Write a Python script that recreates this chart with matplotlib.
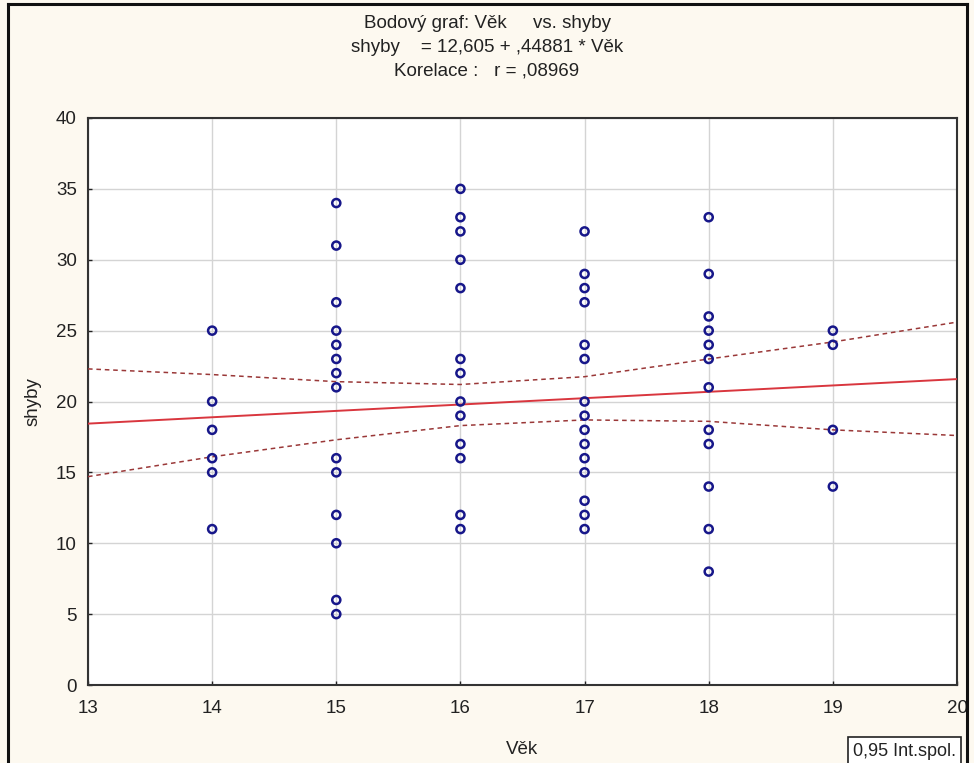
import numpy as np
import matplotlib
matplotlib.use("Agg")
import matplotlib.pyplot as plt
from matplotlib.lines import Line2D

plt.rcParams['font.family'] = ['Liberation Sans', 'DejaVu Sans']

# Age groups and pull-up counts (shyby) observed in each group
vek_14 = [25, 20, 18, 16, 15, 11]
vek_15 = [34, 31, 27, 25, 24, 23, 22, 21, 16, 15, 12, 10, 6, 5]
vek_16 = [35, 33, 32, 30, 28, 23, 22, 20, 19, 17, 16, 12, 11]
vek_17 = [32, 29, 28, 27, 24, 23, 20, 19, 18, 17, 16, 15, 13, 12, 11]
vek_18 = [33, 29, 26, 25, 24, 23, 21, 18, 17, 14, 11, 8]
vek_19 = [25, 24, 18, 14]
groups = {14: vek_14, 15: vek_15, 16: vek_16, 17: vek_17, 18: vek_18, 19: vek_19}

# Regression coefficients as reported
intercept = 12.605
slope = 0.44881

# 0.95 confidence band edges at each age
band_x = [13, 14, 15, 16, 17, 18, 19, 20]
band_upper = [22.3, 21.9, 21.4, 21.2, 21.75, 23.0, 24.2, 25.6]
band_lower = [14.7, 16.1, 17.3, 18.3, 18.7, 18.6, 18.0, 17.6]

x = np.concatenate([[k] * len(v) for k, v in groups.items()]).astype(float)
y = np.concatenate([v for v in groups.values()]).astype(float)

xs = np.array([13.0, 20.0])
fit = intercept + slope * xs

W, H = 974, 763
fig = plt.figure(figsize=(W / 100, H / 100), dpi=100, facecolor='#fdf9f0')
ax = fig.add_axes([88 / W, (H - 685) / H, (957 - 88) / W, (685 - 118) / H])
ax.set_facecolor('white')

ax.grid(True, color='#d4d4d4', linewidth=1.0)
ax.set_axisbelow(True)

ax.plot(xs, fit, color='#d9363e', linewidth=1.4, zorder=3)
ax.plot(band_x, band_upper, color='#9a3838', linewidth=1.1, linestyle=(0, (3, 2.5)), zorder=3)
ax.plot(band_x, band_lower, color='#9a3838', linewidth=1.1, linestyle=(0, (3, 2.5)), zorder=3)

ax.scatter(x, y, s=34, facecolors='none', edgecolors='#17178a', linewidths=1.8, zorder=4)

ax.set_xlim(13, 20)
ax.set_ylim(0, 40)
ax.set_xticks(range(13, 21))
ax.set_yticks(range(0, 41, 5))
ax.tick_params(direction='in', length=3, width=1, colors='#222222',
               labelsize=13.5, labelcolor='#222222')
ax.tick_params(axis='x', pad=11)
ax.tick_params(axis='y', pad=8)
for sp in ax.spines.values():
    sp.set_color('#333333')
    sp.set_linewidth(1.5)

ax.set_xlabel('Věk', fontsize=13.5, color='#222222', labelpad=17)
ax.set_ylabel('shyby', fontsize=13.5, color='#222222', labelpad=10)

fig.text(0.5, 1 - 23 / H, 'Bodový graf: Věk     vs. shyby', ha='center', va='center',
         fontsize=13.5, color='#222222')
fig.text(0.5, 1 - 47 / H, 'shyby    = 12,605 + ,44881 * Věk', ha='center', va='center',
         fontsize=13.5, color='#222222')
fig.text(0.5, 1 - 71 / H, 'Korelace :   r = ,08969', ha='center', va='center',
         fontsize=13.5, color='#222222')

# Outer frame
for xy in [([8, 8], [0, H - 4]), ([8, 967], [H - 4, H - 4]), ([967, 967], [H - 4, 0])]:
    fig.add_artist(Line2D(np.array(xy[0]) / W, np.array(xy[1]) / H,
                          color='#111111', linewidth=2.2, transform=fig.transFigure))

fig.text(853 / W, 1 - 751 / H, '0,95 Int.spol.', ha='left', va='center', fontsize=13,
         color='#222222',
         bbox=dict(boxstyle='square,pad=0.3', facecolor='white', edgecolor='#222222', linewidth=1.2))

fig.savefig('out.png', dpi=100, facecolor=fig.get_facecolor())
